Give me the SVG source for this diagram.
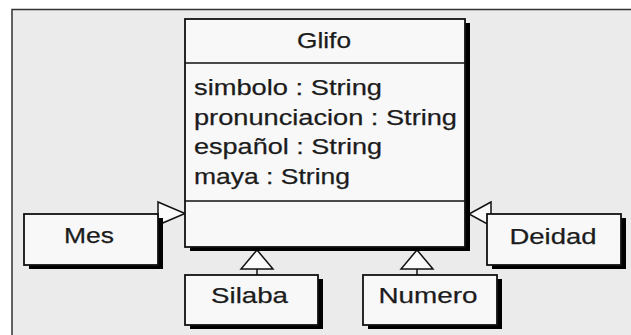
<svg xmlns="http://www.w3.org/2000/svg" width="631" height="335" viewBox="0 0 631 335">
<defs>
<style>
.shadow{fill:#000}
.box{fill:#f8f8f8;stroke:#111;stroke-width:1.8}
.div{stroke:#111;stroke-width:1.6;fill:none}
.t{font-family:"Liberation Sans",Arial,sans-serif;font-size:22px;fill:#1c1c1c;stroke:#1c1c1c;stroke-width:0.25}
.c{text-anchor:middle}
.tri{fill:#fafafa;stroke:#111;stroke-width:1.5;stroke-linejoin:miter}
.ln{stroke:#111;stroke-width:1.5;fill:none}
</style>
</defs>
<rect x="0" y="0" width="631" height="335" fill="#ffffff"/>
<rect x="12" y="9.5" width="625" height="330" fill="#ebebeb" stroke="#333" stroke-width="1.5"/>

<g id="connectors">
<polygon class="tri" points="158,202 185,213.5 158,225"/>
<polygon class="tri" points="491,202 469,214 491,226"/>
<polygon class="tri" points="257,250 241,269 273,269"/>
<line class="ln" x1="257" y1="269" x2="257" y2="275"/>
<polygon class="tri" points="417,250 401,269 433,269"/>
<line class="ln" x1="417" y1="269" x2="417" y2="275"/>
</g>

<g id="Glifo">
<rect class="shadow" x="190" y="23" width="280" height="228"/>
<rect class="box" x="185" y="19" width="280" height="228"/>
<line class="div" x1="185" y1="63" x2="465" y2="63"/>
<line class="div" x1="185" y1="201" x2="465" y2="201"/>
<text class="t c" x="324" y="47.5" textLength="54" lengthAdjust="spacingAndGlyphs">Glifo</text>
<text class="t" x="194" y="95" textLength="188" lengthAdjust="spacingAndGlyphs">simbolo : String</text>
<text class="t" x="194" y="124.5" textLength="263" lengthAdjust="spacingAndGlyphs">pronunciacion : String</text>
<text class="t" x="194" y="154" textLength="188" lengthAdjust="spacingAndGlyphs">español : String</text>
<text class="t" x="194" y="183.5" textLength="156" lengthAdjust="spacingAndGlyphs">maya : String</text>
</g>

<g id="Mes">
<rect class="shadow" x="29" y="218" width="134" height="51"/>
<rect class="box" x="24" y="214" width="134" height="51"/>
<text class="t c" x="89" y="243" textLength="50" lengthAdjust="spacingAndGlyphs">Mes</text>
</g>

<g id="Deidad">
<rect class="shadow" x="492" y="218" width="134" height="51"/>
<rect class="box" x="487" y="214" width="134" height="51"/>
<text class="t c" x="553" y="244" textLength="87" lengthAdjust="spacingAndGlyphs">Deidad</text>
</g>

<g id="Silaba">
<rect class="shadow" x="190" y="279" width="133" height="50"/>
<rect class="box" x="185" y="275" width="133" height="50"/>
<text class="t c" x="249.5" y="303" textLength="77" lengthAdjust="spacingAndGlyphs">Silaba</text>
</g>

<g id="Numero">
<rect class="shadow" x="368" y="279" width="134" height="50"/>
<rect class="box" x="363" y="275" width="134" height="50"/>
<text class="t c" x="428" y="303" textLength="99" lengthAdjust="spacingAndGlyphs">Numero</text>
</g>
</svg>
